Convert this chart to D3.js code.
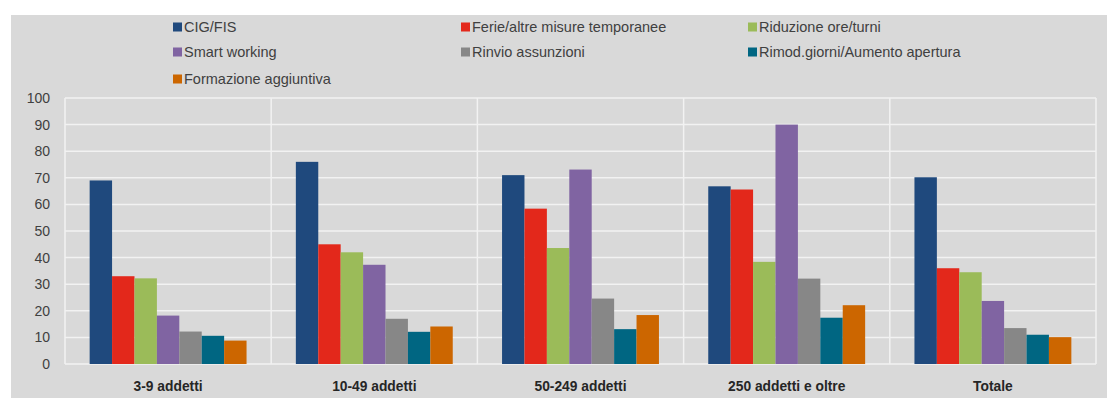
<!DOCTYPE html>
<html><head><meta charset="utf-8">
<script src="https://cdn.jsdelivr.net/npm/d3@7"></script>
<style>body{margin:0;background:#fff}svg{display:block}</style>
</head><body>
<svg id="c" width="1107" height="398"></svg>
<script>
const categories = ["3-9 addetti","10-49 addetti","50-249 addetti","250 addetti e oltre","Totale"];
const seriesNames = ["CIG/FIS","Ferie/altre misure temporanee","Riduzione ore/turni","Smart working","Rinvio assunzioni","Rimod.giorni/Aumento apertura","Formazione aggiuntiva"];
const cigFis      = [69, 76, 71, 66.8, 70.2];
const ferie       = [33, 45, 58.4, 65.6, 36];
const riduzione   = [32.2, 42, 43.6, 38.4, 34.5];
const smart       = [18.2, 37.3, 73.1, 90, 23.7];
const rinvio      = [12.2, 17, 24.6, 32.1, 13.5];
const rimod       = [10.6, 12.1, 13.1, 17.4, 11];
const formazione  = [8.8, 14.1, 18.4, 22.1, 10.1];
const yTicks = [0,10,20,30,40,50,60,70,80,90,100];
const colors = ["#1F497D","#E3281B","#9BBB59","#8064A2","#878787","#006682","#CC6600"];

const values = [cigFis, ferie, riduzione, smart, rinvio, rimod, formazione];
const svg = d3.select("#c");
const font = "'Liberation Sans', Arial, sans-serif";

svg.append("rect").attr("x",11).attr("y",15).attr("width",1096).attr("height",383).attr("fill","#D9D9D9");

const L=65, R=1096, T=98, B=364;
const x0 = d3.scaleBand().domain(categories).range([L,R]).paddingInner(0).paddingOuter(0);
const x1 = d3.scaleBand().domain(seriesNames).range([0,x0.bandwidth()]).paddingOuter(1.1).paddingInner(0);
const y = d3.scaleLinear().domain([0,100]).range([B,T]);

// grid
svg.append("g").selectAll("line").data(yTicks).join("line")
  .attr("x1",L).attr("x2",R).attr("y1",d=>y(d)).attr("y2",d=>y(d))
  .attr("stroke","#F2F2F2").attr("stroke-width",1.5);
const bounds = categories.map(c=>x0(c)).concat([R]);
svg.append("g").selectAll("line").data(bounds).join("line")
  .attr("x1",d=>d).attr("x2",d=>d).attr("y1",T).attr("y2",B)
  .attr("stroke","#F2F2F2").attr("stroke-width",1.5);

// bars
categories.forEach((c,ci)=>{
  seriesNames.forEach((s,si)=>{
    svg.append("rect")
      .attr("x",x0(c)+x1(s)).attr("width",x1.bandwidth())
      .attr("y",y(values[si][ci])).attr("height",y(0)-y(values[si][ci]))
      .attr("fill",colors[si]);
  });
});

// y axis labels
const yAxis = d3.axisLeft(y).tickValues(yTicks).tickSize(0).tickPadding(0);
const ya = svg.append("g").attr("transform",`translate(50,0)`).call(yAxis);
ya.select(".domain").remove();
ya.selectAll("text").attr("font-family",font).attr("font-size",14).attr("fill","#404040");

// x axis labels
const xAxis = d3.axisBottom(x0).tickSize(0).tickPadding(0);
const xa = svg.append("g").attr("transform",`translate(0,381)`).call(xAxis);
xa.select(".domain").remove();
xa.selectAll("text").attr("font-family",font).attr("font-size",13.8).attr("font-weight","bold").attr("fill","#262626");

// legend
const legX = [173, 461, 748];
const legY = [27, 52, 79];
seriesNames.forEach((s,i)=>{
  const cx = legX[i%3], cy = legY[Math.floor(i/3)];
  const g = svg.append("g");
  g.append("rect").attr("x",cx).attr("y",cy-4.5).attr("width",9).attr("height",9).attr("fill",colors[i]);
  g.append("text").attr("x",cx+11).attr("y",cy).attr("dy","0.35em")
    .attr("font-family",font).attr("font-size",14.5).attr("fill","#404040").text(s);
});
</script>
</body></html>
